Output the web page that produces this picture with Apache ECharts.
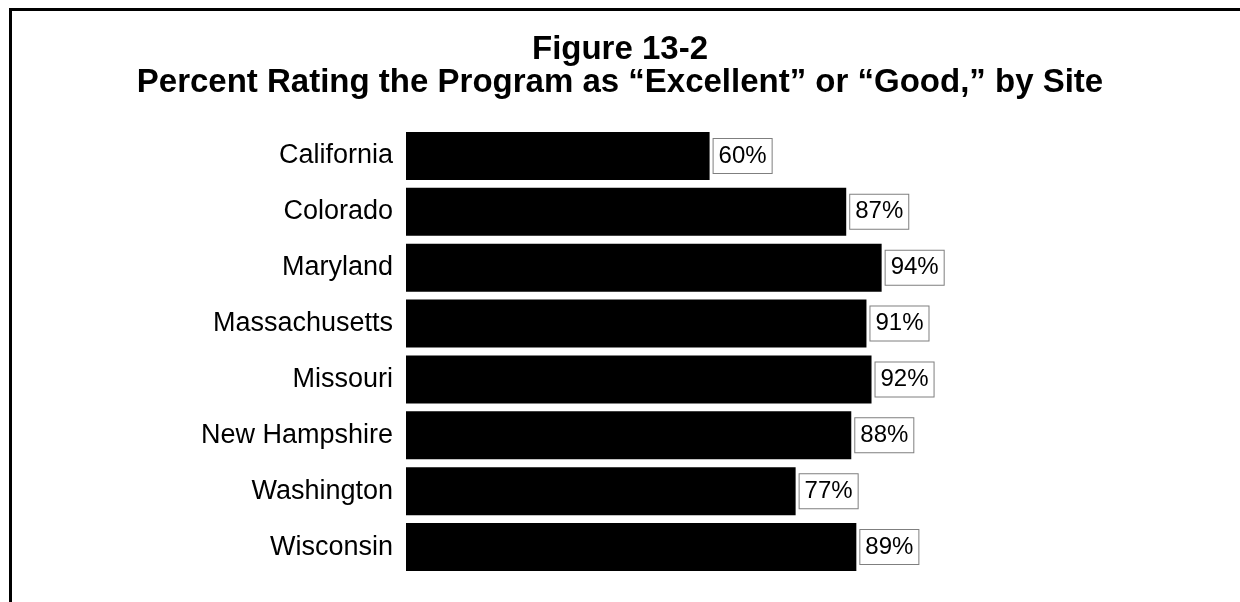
<!DOCTYPE html>
<html>
<head>
<meta charset="utf-8">
<script src="https://cdn.jsdelivr.net/npm/echarts@6/dist/echarts.min.js"></script>
<style>
  html, body { margin: 0; padding: 0; background: #ffffff; }
  #chart { width: 1240px; height: 602px; }
</style>
</head>
<body>
<div id="chart"></div>
<script>
// Sites and share rating the program "Excellent" or "Good"
const sites = ['California', 'Colorado', 'Maryland', 'Massachusetts', 'Missouri', 'New Hampshire', 'Washington', 'Wisconsin'];
const percents = [60, 87, 94, 91, 92, 88, 77, 89];
const titleLines = ['Figure 13-2', 'Percent Rating the Program as \u201cExcellent\u201d or \u201cGood,\u201d by Site'];

const FONT = "'Liberation Sans', Arial, Helvetica, sans-serif";

const chart = echarts.init(document.getElementById('chart'), null, { renderer: 'canvas' });

chart.setOption({
  backgroundColor: '#ffffff',
  animation: false,
  title: {
    text: titleLines.join('\n'),
    left: 'center',
    top: 28,
    textStyle: {
      fontFamily: FONT,
      fontWeight: 'bold',
      fontSize: 33,
      lineHeight: 33,
      color: '#000000'
    }
  },
  graphic: [{
    // frame around the figure (open to the right and bottom)
    type: 'rect',
    shape: { x: 10.5, y: 9.5, width: 1400, height: 800 },
    style: { fill: 'none', stroke: '#000000', lineWidth: 3 },
    silent: true
  }],
  grid: {
    left: 406,
    right: 328,
    top: 128,
    bottom: 27,
    containLabel: false
  },
  xAxis: {
    type: 'value',
    min: 0,
    max: 100,
    show: false
  },
  yAxis: {
    type: 'category',
    data: sites,
    inverse: true,
    axisLine: { show: false },
    axisTick: { show: false },
    axisLabel: {
      margin: 13,
      color: '#000000',
      fontFamily: FONT,
      fontSize: 27
    }
  },
  series: [{
    type: 'bar',
    data: percents,
    barCategoryGap: '14%',
    itemStyle: { color: '#000000' },
    label: {
      show: true,
      position: 'right',
      distance: 4,
      formatter: p => p.value + '%',
      color: '#000000',
      fontFamily: FONT,
      fontSize: 24,
      lineHeight: 24,
      backgroundColor: '#ffffff',
      borderColor: '#7f7f7f',
      borderWidth: 1,
      padding: [5, 5, 5, 5]
    }
  }]
});
</script>
</body>
</html>
